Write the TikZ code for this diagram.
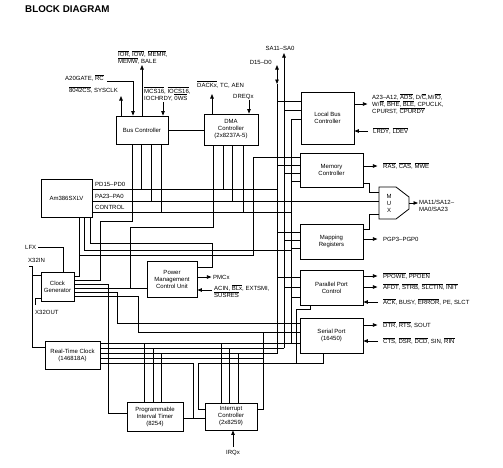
\documentclass[tikz,border=0pt]{standalone}
\usepackage{fontspec}
\setmainfont{Liberation Sans}
\usetikzlibrary{positioning, calc, arrows.meta}
\newcommand{\nbar}[1]{\ensuremath{\overline{\mbox{#1}}}}
\newcommand{\sig}{\fontsize{6}{7}\selectfont}
\tikzset{
    blk/.style={rectangle, draw, line width=0.8pt, align=center, font=\sig, inner sep=1pt},
    wire/.style={line width=0.8pt},
    sigout/.style={-{Triangle[length=4.5pt, width=3.5pt]}, line width=0.8pt},
    bidir/.style={{Triangle[length=4.5pt, width=3.5pt]}-{Triangle[length=4.5pt, width=3.5pt]}, line width=0.8pt},
    lbl/.style={font=\sig, align=left, inner sep=0pt},
}
\begin{document}
\begin{tikzpicture}[x=1pt, y=-1pt]
\useasboundingbox (0,0) rectangle (503,467);
% Titolo
\node[anchor=west, font=\bfseries\fontsize{9.8}{11}\selectfont, inner sep=0pt] (title) at (25,9.5) {BLOCK DIAGRAM};

% Blocchi
\node[blk, minimum width=52pt, minimum height=28pt] (bc) at (142,130) {Bus Controller};
\node[blk, minimum width=54pt, minimum height=31pt] (dma) at (231,129.5) {DMA\\Controller\\(2x8237A-5)};
\node[blk, minimum width=53pt, minimum height=52pt] (lbc) at (327.5,118) {Local Bus\\Controller};
\node[blk, minimum width=63pt, minimum height=34pt] (mc) at (331.5,170) {Memory\\Controller};
\node[blk, minimum width=63pt, minimum height=35pt] (mr) at (331.5,241.5) {Mapping\\Registers};
\node[blk, minimum width=63pt, minimum height=35pt] (pp) at (331.5,287.5) {Parallel Port\\Control};
\node[blk, minimum width=63pt, minimum height=35pt] (sp) at (331.5,335.5) {Serial Port\\(16450)};
\node[blk, minimum width=51pt, minimum height=38pt] (cpu) at (66.5,198) {Am386SXLV};
\node[blk, minimum width=33pt, minimum height=29pt] (cg) at (57.5,286.5) {Clock\\Generator};
\node[blk, minimum width=50pt, minimum height=36pt] (pmu) at (172,279) {Power\\Management\\Control Unit};
\node[blk, minimum width=55pt, minimum height=28pt] (rtc) at (72.5,355) {Real-Time Clock\\(146818A)};
\node[blk, minimum width=56pt, minimum height=29pt] (pit) at (155,416.5) {Programmable\\Interval Timer\\(8254)};
\node[blk, minimum width=52pt, minimum height=27pt] (ic) at (231,416.5) {Interrupt\\Controller\\(2x8259)};

% MUX
\draw[wire] (379,187) -- (396,187) -- (409,197) -- (409,209) -- (396,219) -- (379,219) -- cycle;
\node[lbl, align=center] (mux) at (389,203) {M\\U\\X};
\coordinate (muxout) at (409,203);

% Bus controller, segnali esterni
\draw[sigout] (bc.north -| 121,0) -- (121,96);
\node[lbl, anchor=east] (l8042) at (118,90) {\nbar{8042CS}, SYSCLK};
\draw[sigout] (107,81) -| (bc.north -| 133,0);
\node[lbl, anchor=east] (la20) at (104,78) {A20GATE, \nbar{RC}};
\draw[sigout] (bc.north -| 142,0) -- (142,65);
\node[lbl, anchor=south west] (lior) at (118,64.5) {\nbar{IOR}, \nbar{IOW}, \nbar{MEMR},\\\nbar{MEMW}, BALE};
\draw[sigout] (163,102) -- (bc.north -| 163,0);
\node[lbl, anchor=south west] (lmcs) at (144,101) {\nbar{MCS16}, \nbar{IOCS16},\\IOCHRDY, \nbar{0WS}};
\draw[wire] (bc.east) -- (dma.west |- bc.east);

% DMA
\draw[sigout] (dma.north -| 212,0) -- (212,94);
\node[lbl, anchor=south west] (ldack) at (197,88) {\nbar{DACKx}, TC, AEN};
\draw[sigout] (249,100) -- (dma.north -| 249,0);
\node[lbl, anchor=south west] (ldreq) at (233,99.5) {DREQx};

% Bus interni verticali
\draw[bidir] (277,84) -- (277,65);
\node[lbl, anchor=east] (ld) at (272,62) {D15--D0};
\draw[sigout] (284,348) -- (284,53);
\node[lbl, anchor=south] (lsa) at (280,51) {SA11--SA0};
\draw[wire] (277,84) -- (277,353) -- (rtc.east |- 0,353);
\draw[wire] (284,348) -- (rtc.east |- 0,348);
\draw[wire] (lbc.west |- 0,119) -| (291,343);
\draw[wire] (sp.west |- 0,343) -- (rtc.east |- 0,343);

% Local bus controller
\draw[wire] (277,101) -- (lbc.west |- 0,101);
\draw[wire] (284,110) -- (lbc.west |- 0,110);
\draw[sigout] (lbc.east |- 0,104) -- ++(13,0);
\node[lbl, anchor=west] (llb) at (372,104) {A23--A12, \nbar{ADS}, D/\nbar{C},M/\nbar{IO},\\W/\nbar{R}, \nbar{BHE}, \nbar{BLE}, CPUCLK,\\CPURST, \nbar{CPURDY}};
\draw[sigout] (368,131) -- (lbc.east |- 0,131);
\node[lbl, anchor=west] (llrdy) at (373,131) {\nbar{LRDY}, \nbar{LDEV}};

% Memory controller e MUX
\draw[wire] (277,165) -- (mc.west |- 0,165);
\draw[wire] (284,173) -- (mc.west |- 0,173);
\draw[wire] (291,181) -- (mc.west |- 0,181);
\draw[sigout] (mc.east |- 0,166) -- ++(14,0);
\node[lbl, anchor=west] (lras) at (383,166) {\nbar{RAS}, \nbar{CAS}, \nbar{MWE}};
\draw[wire] (mc.east |- 0,183) -| (369,192) -- (379,192);
\draw[wire] (mr.east |- 0,229) -| (369,214) -- (379,214);
\draw[sigout] (muxout) -- ++(9,0);
\node[lbl, anchor=west] (lma) at (419,206) {MA11/SA12--\\MA0/SA23};

% Mapping registers
\draw[wire] (277,232) -- (mr.west |- 0,232);
\draw[wire] (284,240) -- (mr.west |- 0,240);
\draw[wire] (291,248) -- (mr.west |- 0,248);
\draw[sigout] (mr.east |- 0,239) -- ++(14,0);
\node[lbl, anchor=west] (lpgp) at (383,239) {PGP3--PGP0};

% Parallel port
\draw[wire] (277,277) -- (pp.west |- 0,277);
\draw[wire] (284,287) -- (pp.west |- 0,287);
\draw[wire] (291,297) -- (pp.west |- 0,297);
\draw[sigout] (pp.east |- 0,276) -- ++(14,0);
\node[lbl, anchor=west] (lppo) at (383,276) {\nbar{PPOWE}, \nbar{PPOEN}};
\draw[sigout] (pp.east |- 0,287) -- ++(14,0);
\node[lbl, anchor=west] (lafd) at (383,287) {\nbar{AFDT}, \nbar{STRB}, \nbar{SLCTIN}, \nbar{INIT}};
\draw[sigout] (378,302) -- (pp.east |- 0,302);
\node[lbl, anchor=west] (lack) at (383,302) {\nbar{ACK}, BUSY, \nbar{ERROR}, PE, SLCT};

% Serial port
\draw[sigout] (sp.east |- 0,325) -- ++(14,0);
\node[lbl, anchor=west] (ldtr) at (383,325) {\nbar{DTR}, \nbar{RTS}, SOUT};
\draw[sigout] (378,341) -- (sp.east |- 0,341);
\node[lbl, anchor=west] (lcts) at (383,341) {\nbar{CTS}, \nbar{DSR}, \nbar{DCD}, SIN, \nbar{RIN}};

% CPU
\node[lbl, anchor=south west] (lpd) at (95,187) {PD15--PD0};
\node[lbl, anchor=south west] (lpa) at (95,199) {PA23--PA0};
\node[lbl, anchor=south west] (lctl) at (95,210) {CONTROL};
\draw[wire] (cpu.east |- 0,189) -- (277,189);
\draw[wire] (cpu.east |- 0,201) -- (379,201);
\draw[wire] (cpu.east |- 0,212) -- (291,212);
\foreach \x/\y in {141/189, 151/201, 161/212} \draw[wire] (bc.south -| \x,0) -- (\x,\y);
\foreach \x/\y in {223/189, 232/201, 243/212} \draw[wire] (dma.south -| \x,0) -- (\x,\y);
\draw[wire] (cpu.south -| 79,0) -- (79,276) -- (cg.east |- 0,276);
\draw[wire] (79,255) -| (253,157) -- (mc.west |- 0,157);
\draw[wire] (cpu.south -| 84,0) |- (291,250);
\draw[wire] (cpu.south -| 90,0) |- (212,243) |- (pmu.east |- 0,267);

% Clock generator
\draw[wire] (bc.south -| 132,0) |- (100,221) |- (cg.east |- 0,280);
\draw[wire] (dma.south -| 213,0) |- (130,227) -- (130,288);
\draw[wire] (cg.east |- 0,284) -| (108,413) -- (pit.west |- 0,413);
\draw[wire] (cg.east |- 0,288) -- (pmu.west |- 0,288);
\draw[wire] (cg.east |- 0,292) -| (117,323) -- (sp.west |- 0,323);
\draw[wire] (cg.east |- 0,296) -| (138,332) -- (sp.west |- 0,332);
\node[lbl, anchor=west] (llfx) at (25,247) {LFX};
\draw[wire] ([xshift=2pt]llfx.east) -| (cg.north -| 63,0);
\node[lbl, anchor=west] (lx32in) at (28,260) {X32IN};
\draw[wire] (29,266) -| (32,347) -- (rtc.west |- 0,347);
\draw[wire] (32,275) -- (cg.west |- 0,275);
\draw[wire] (cg.west |- 0,298) -| (35,305);
\node[lbl, anchor=west] (lx32out) at (35,312) {X32OUT};

% Power management
\draw[sigout] (pmu.east |- 0,277) -- ++(14,0);
\node[lbl, anchor=west] (lpmc) at (213,277) {PMCx};
\draw[sigout] (212,290) -- (pmu.east |- 0,290);
\node[lbl, anchor=west] (lacin) at (214,291) {ACIN, \nbar{BLx}, EXTSMI,\\\nbar{SUSRES}};

% RTC, PIT, interrupt controller
\foreach \x/\y in {144/343, 153/348, 161/353} \draw[wire] (pit.north -| \x,0) -- (\x,\y);
\foreach \x/\y in {221/343, 229/348, 238/353} \draw[wire] (ic.north -| \x,0) -- (\x,\y);
\draw[wire] (rtc.east |- 0,358) -- (263,358);
\draw[wire] (ic.east |- 0,409) -| (263,332);
\draw[wire] (rtc.east |- 0,363) -| (193,418);
\draw[wire] (pit.east |- 0,418) -- (ic.west |- 0,418);
\draw[wire] (pp.south -| 310,0) |- (296,309) |- (198,363) |- (ic.west |- 0,409);
\draw[wire] (sp.south -| 323,0) |- (296,363);
\draw[sigout] (233,447) -- (ic.south -| 233,0);
\node[lbl, anchor=north] (lirq) at (233,450) {IRQx};
\end{tikzpicture}
\end{document}
